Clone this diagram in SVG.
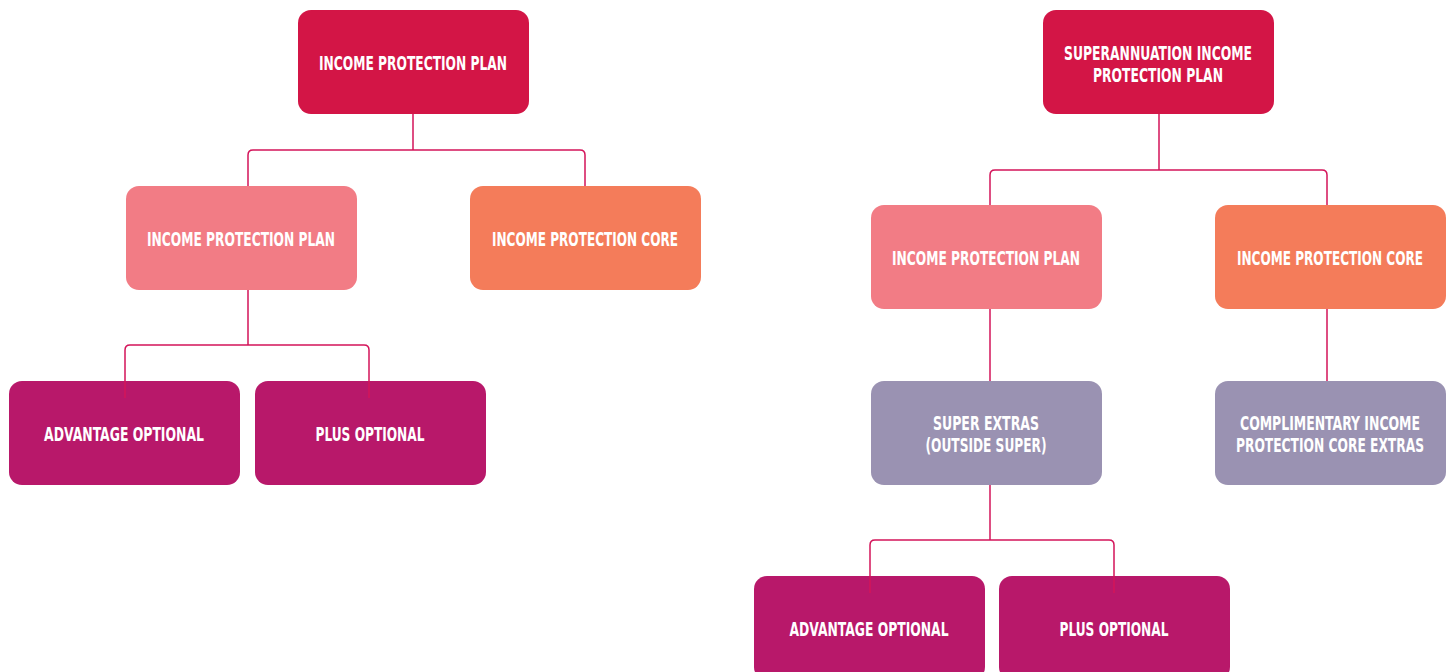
<svg xmlns="http://www.w3.org/2000/svg" width="1453" height="672" viewBox="0 0 1453 672">
<style>
.t{font-family:"DejaVu Sans Condensed","Liberation Sans Narrow","Liberation Sans",sans-serif;font-weight:bold;font-size:20px;fill:#fff;text-anchor:middle}
.c{fill:none;stroke:#D4145A;stroke-width:1.5}
.red{fill:#D31546}.pink{fill:#F27C85}.org{fill:#F47C5A}.mag{fill:#B8186A}.lav{fill:#9A92B2}
</style>
<rect width="1453" height="672" fill="#fff"/>
<g id="l-top"><rect class="red" x="298" y="10" width="231" height="104" rx="13"/><text class="t" transform="translate(413 70) scale(0.75 1)" textLength="250.7" lengthAdjust="spacingAndGlyphs">INCOME PROTECTION PLAN</text></g>
<g id="l-ipp"><rect class="pink" x="126" y="186" width="231" height="104" rx="13"/><text class="t" transform="translate(241 246) scale(0.75 1)" textLength="250.7" lengthAdjust="spacingAndGlyphs">INCOME PROTECTION PLAN</text></g>
<g id="l-ipc"><rect class="org" x="470" y="186" width="231" height="104" rx="13"/><text class="t" transform="translate(585 246) scale(0.75 1)" textLength="248" lengthAdjust="spacingAndGlyphs">INCOME PROTECTION CORE</text></g>
<g id="l-adv"><rect class="mag" x="9" y="381" width="231" height="104" rx="13"/><text class="t" transform="translate(124 441) scale(0.75 1)" textLength="213.3" lengthAdjust="spacingAndGlyphs">ADVANTAGE OPTIONAL</text></g>
<g id="l-plus"><rect class="mag" x="255" y="381" width="231" height="104" rx="13"/><text class="t" transform="translate(370 441) scale(0.75 1)" textLength="145.3" lengthAdjust="spacingAndGlyphs">PLUS OPTIONAL</text></g>
<g id="r-top"><rect class="red" x="1043" y="10" width="231" height="104" rx="13"/><text class="t" transform="translate(1158 60) scale(0.75 1)" textLength="250.7" lengthAdjust="spacingAndGlyphs">SUPERANNUATION INCOME</text><text class="t" transform="translate(1158 82) scale(0.75 1)" textLength="173.3" lengthAdjust="spacingAndGlyphs">PROTECTION PLAN</text></g>
<g id="r-ipp"><rect class="pink" x="871" y="205" width="231" height="104" rx="13"/><text class="t" transform="translate(986 265) scale(0.75 1)" textLength="250.7" lengthAdjust="spacingAndGlyphs">INCOME PROTECTION PLAN</text></g>
<g id="r-ipc"><rect class="org" x="1215" y="205" width="231" height="104" rx="13"/><text class="t" transform="translate(1330 265) scale(0.75 1)" textLength="248" lengthAdjust="spacingAndGlyphs">INCOME PROTECTION CORE</text></g>
<g id="r-se"><rect class="lav" x="871" y="381" width="231" height="104" rx="13"/><text class="t" transform="translate(986 430) scale(0.75 1)" textLength="141.3" lengthAdjust="spacingAndGlyphs">SUPER EXTRAS</text><text class="t" transform="translate(986 452) scale(0.75 1)" textLength="161.3" lengthAdjust="spacingAndGlyphs">(OUTSIDE SUPER)</text></g>
<g id="r-cx"><rect class="lav" x="1215" y="381" width="231" height="104" rx="13"/><text class="t" transform="translate(1330 430) scale(0.75 1)" textLength="240" lengthAdjust="spacingAndGlyphs">COMPLIMENTARY INCOME</text><text class="t" transform="translate(1330 452) scale(0.75 1)" textLength="250.7" lengthAdjust="spacingAndGlyphs">PROTECTION CORE EXTRAS</text></g>
<g id="r-adv"><rect class="mag" x="754" y="576" width="231" height="104" rx="13"/><text class="t" transform="translate(869 636) scale(0.75 1)" textLength="212" lengthAdjust="spacingAndGlyphs">ADVANTAGE OPTIONAL</text></g>
<g id="r-plus"><rect class="mag" x="999" y="576" width="231" height="104" rx="13"/><text class="t" transform="translate(1114 636) scale(0.75 1)" textLength="145.3" lengthAdjust="spacingAndGlyphs">PLUS OPTIONAL</text></g>
<g id="connectors">
<path class="c" d="M413 114V150M248 186V155Q248 150 253 150H580Q585 150 585 155V186"/>
<path class="c" d="M248 290V345M125 398V350Q125 345 130 345H364Q369 345 369 350V398"/>
<path class="c" d="M1159 114V170M990 205V175Q990 170 995 170H1322Q1327 170 1327 175V205"/>
<path class="c" d="M990 309V381M1327 309V381"/>
<path class="c" d="M990 485V540M870 593V545Q870 540 875 540H1109Q1114 540 1114 545V593"/>
</g>
</svg>
